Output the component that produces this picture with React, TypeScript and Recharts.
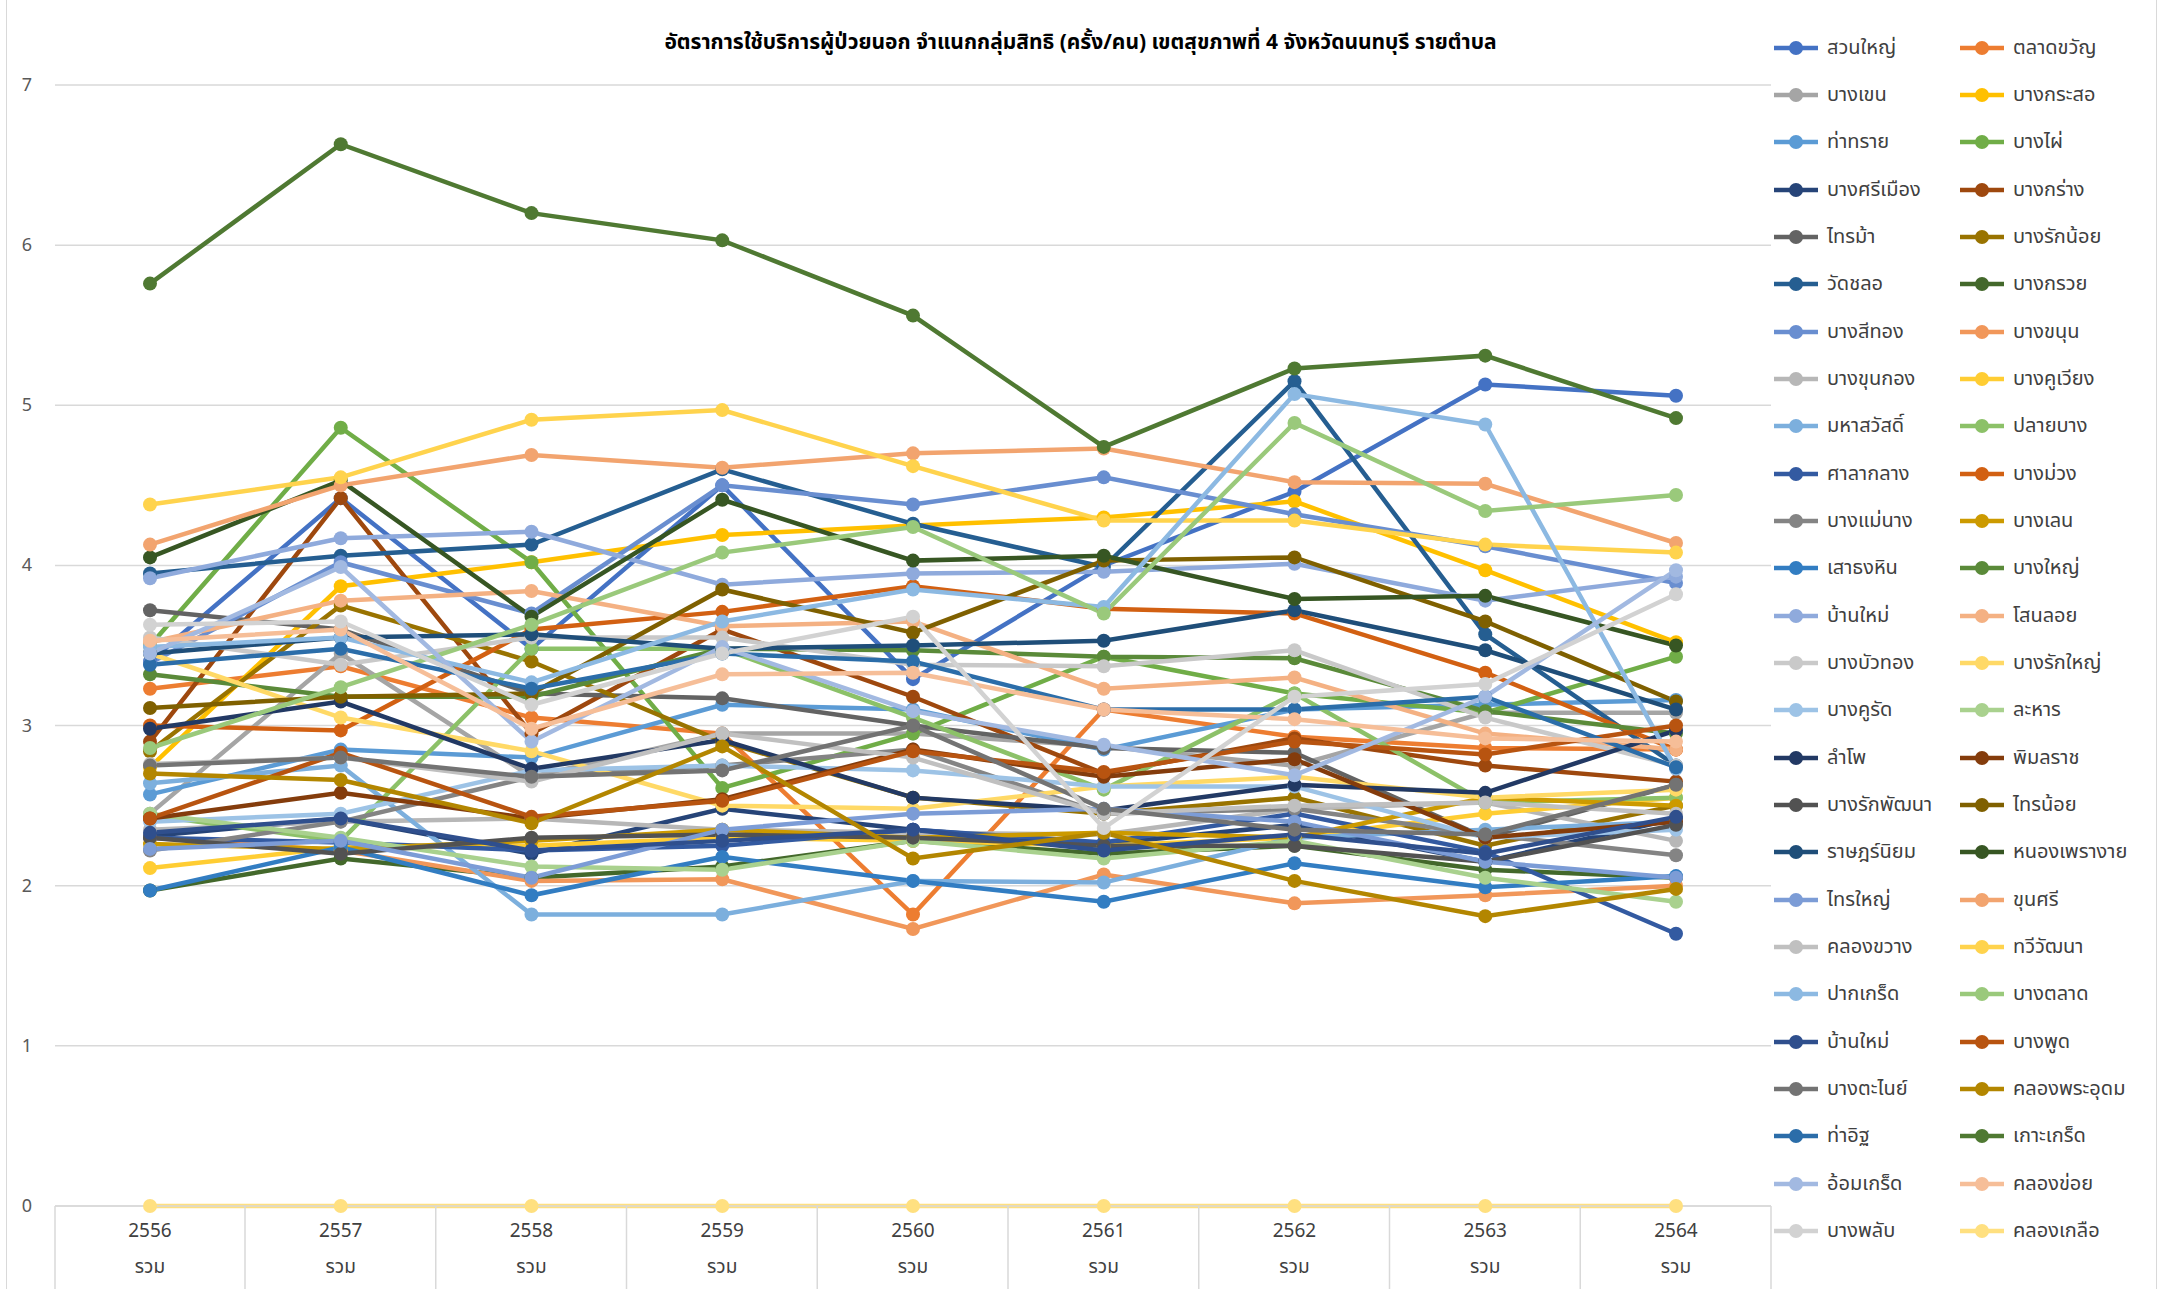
import { CartesianGrid, Legend, Line, LineChart, XAxis, YAxis } from "recharts";

const YEARS = ["2556", "2557", "2558", "2559", "2560", "2561", "2562", "2563", "2564"];
const Y_TICKS = [0, 1, 2, 3, 4, 5, 6, 7];

// values per tambon, 2556 -> 2564 (visits / person)
const suanYai = [3.4, 4.42, 3.48, 4.5, 3.29, 4.0, 4.46, 5.13, 5.06];
const talatKhwan = [3.23, 3.37, 3.05, 2.95, 1.82, 3.1, 2.93, 2.86, 2.85];
const bangKhen = [2.45, 3.45, 2.68, 2.95, 2.95, 2.87, 2.75, 3.08, 3.08];
const bangKrasor = [2.74, 3.87, 4.02, 4.19, 4.25, 4.3, 4.4, 3.97, 3.52];
const thaSai = [2.57, 2.85, 2.8, 3.13, 3.1, 2.85, 3.1, 3.13, 3.16];
const bangPhai = [3.5, 4.86, 4.02, 2.61, 2.95, 3.43, 3.2, 3.08, 3.43];
const bangSiMueang = [2.31, 2.42, 2.2, 2.48, 2.35, 2.26, 2.38, 2.15, 2.42];
const bangKrang = [2.9, 4.42, 2.95, 3.6, 3.18, 2.7, 2.92, 2.75, 2.65];
const saiMa = [3.72, 3.6, 3.2, 3.17, 3.0, 2.86, 2.83, 2.3, 2.63];
const bangRakNoi = [2.84, 3.75, 3.4, 2.9, 2.55, 2.45, 2.55, 2.25, 2.5];
const watChalo = [3.95, 4.06, 4.13, 4.6, 4.26, 3.99, 5.15, 3.57, 2.75];
const bangKruai = [1.97, 2.17, 2.05, 2.12, 2.28, 2.2, 2.25, 2.1, 2.05];
const bangSiThong = [3.39, 4.02, 3.7, 4.5, 4.38, 4.55, 4.32, 4.12, 3.89];
const bangKhanun = [2.3, 2.22, 2.03, 2.04, 1.73, 2.07, 1.89, 1.94, 2.0];
const bangKhunKong = [2.35, 2.4, 2.42, 2.35, 2.33, 2.32, 2.48, 2.52, 2.28];
const bangKhuWiang = [2.11, 2.24, 2.25, 2.3, 2.28, 2.25, 2.3, 2.45, 2.55];
const mahaSawat = [2.64, 2.75, 1.82, 1.82, 2.03, 2.02, 2.3, 2.35, 2.4];
const plaiBang = [2.44, 2.28, 3.48, 3.48, 3.05, 2.6, 3.2, 2.52, 2.55];
const salaKlang = [2.3, 2.27, 2.22, 2.25, 2.35, 2.27, 2.45, 2.21, 1.7];
const bangMuang = [3.0, 2.97, 3.6, 3.71, 3.87, 3.73, 3.7, 3.33, 2.85];
const bangMaeNang = [2.22, 2.4, 2.68, 2.75, 2.85, 2.45, 2.48, 2.32, 2.19];
const bangLen = [2.26, 2.23, 2.28, 2.35, 2.3, 2.33, 2.3, 2.55, 2.5];
const saoThongHin = [1.97, 2.24, 1.94, 2.18, 2.03, 1.9, 2.14, 1.99, 2.06];
const bangYai = [3.32, 3.18, 3.18, 3.48, 3.47, 3.43, 3.42, 3.09, 2.95];
const banMai = [3.92, 4.17, 4.21, 3.88, 3.95, 3.96, 4.01, 3.78, 3.93];
const sanonLoi = [3.52, 3.78, 3.84, 3.62, 3.65, 3.23, 3.3, 2.95, 2.85];
const bangBuaThong = [3.55, 3.38, 3.55, 3.55, 3.38, 3.37, 3.47, 3.05, 2.75];
const bangRakYai = [3.45, 3.05, 2.84, 2.5, 2.48, 2.62, 2.68, 2.55, 2.6];
const bangKhuRat = [2.4, 2.45, 2.72, 2.75, 2.72, 2.62, 2.62, 2.3, 2.35];
const lahan = [2.45, 2.3, 2.12, 2.1, 2.28, 2.17, 2.28, 2.05, 1.9];
const lamPho = [2.98, 3.15, 2.73, 2.91, 2.55, 2.47, 2.63, 2.58, 2.97];
const phimonRat = [2.42, 2.58, 2.42, 2.54, 2.85, 2.68, 2.79, 2.3, 2.4];
const bangRakPhatthana = [2.3, 2.2, 2.3, 2.32, 2.3, 2.25, 2.25, 2.15, 2.38];
const saiNoi = [3.11, 3.18, 3.2, 3.85, 3.58, 4.03, 4.05, 3.65, 3.15];
const ratNiyom = [3.45, 3.55, 3.57, 3.48, 3.5, 3.53, 3.72, 3.47, 3.1];
const nongPhraoNgai = [4.05, 4.53, 3.68, 4.41, 4.03, 4.06, 3.79, 3.81, 3.5];
const saiYai = [2.23, 2.28, 2.05, 2.35, 2.45, 2.48, 2.4, 2.15, 2.05];
const khunSi = [4.13, 4.5, 4.69, 4.61, 4.7, 4.73, 4.52, 4.51, 4.14];
const khlongKhwang = [2.76, 2.8, 2.65, 2.95, 2.8, 2.45, 2.5, 2.52, 2.45];
const thawiWatthana = [4.38, 4.55, 4.91, 4.97, 4.62, 4.28, 4.28, 4.13, 4.08];
const pakKret = [3.49, 3.55, 3.27, 3.65, 3.85, 3.74, 5.07, 4.88, 2.73];
const bangTalat = [2.86, 3.24, 3.63, 4.08, 4.24, 3.7, 4.89, 4.34, 4.44];
const banMai2 = [2.33, 2.42, 2.22, 2.28, 2.35, 2.22, 2.32, 2.2, 2.43];
const bangPhut = [2.42, 2.83, 2.43, 2.53, 2.84, 2.71, 2.9, 2.82, 3.0];
const bangTanai = [2.75, 2.8, 2.68, 2.72, 3.0, 2.48, 2.35, 2.32, 2.63];
const khlongPhraUdom = [2.7, 2.66, 2.39, 2.87, 2.17, 2.33, 2.03, 1.81, 1.98];
const thaIt = [3.38, 3.48, 3.23, 3.45, 3.4, 3.1, 3.1, 3.18, 2.74];
const koKret = [5.76, 6.63, 6.2, 6.03, 5.56, 4.74, 5.23, 5.31, 4.92];
const omKret = [3.45, 3.99, 2.9, 3.49, 3.09, 2.88, 2.69, 3.18, 3.97];
const khlongKhoi = [3.53, 3.6, 2.98, 3.32, 3.33, 3.1, 3.04, 2.92, 2.9];
const bangPhlap = [3.63, 3.65, 3.13, 3.45, 3.68, 2.36, 3.18, 3.26, 3.82];
const khlongKluea = [0, 0, 0, 0, 0, 0, 0, 0, 0];

const SERIES = [
  { name: "สวนใหญ่", color: "#4472C4", values: suanYai },
  { name: "ตลาดขวัญ", color: "#ED7D31", values: talatKhwan },
  { name: "บางเขน", color: "#A5A5A5", values: bangKhen },
  { name: "บางกระสอ", color: "#FFC000", values: bangKrasor },
  { name: "ท่าทราย", color: "#5B9BD5", values: thaSai },
  { name: "บางไผ่", color: "#70AD47", values: bangPhai },
  { name: "บางศรีเมือง", color: "#264478", values: bangSiMueang },
  { name: "บางกร่าง", color: "#9E480E", values: bangKrang },
  { name: "ไทรม้า", color: "#636363", values: saiMa },
  { name: "บางรักน้อย", color: "#997300", values: bangRakNoi },
  { name: "วัดชลอ", color: "#255E91", values: watChalo },
  { name: "บางกรวย", color: "#43682B", values: bangKruai },
  { name: "บางสีทอง", color: "#698ED0", values: bangSiThong },
  { name: "บางขนุน", color: "#F1975A", values: bangKhanun },
  { name: "บางขุนกอง", color: "#B7B7B7", values: bangKhunKong },
  { name: "บางคูเวียง", color: "#FFCD33", values: bangKhuWiang },
  { name: "มหาสวัสดิ์", color: "#7CAFDD", values: mahaSawat },
  { name: "ปลายบาง", color: "#8CC168", values: plaiBang },
  { name: "ศาลากลาง", color: "#335AA1", values: salaKlang },
  { name: "บางม่วง", color: "#D26012", values: bangMuang },
  { name: "บางแม่นาง", color: "#848484", values: bangMaeNang },
  { name: "บางเลน", color: "#CC9A00", values: bangLen },
  { name: "เสาธงหิน", color: "#327DC2", values: saoThongHin },
  { name: "บางใหญ่", color: "#5A8A39", values: bangYai },
  { name: "บ้านใหม่", color: "#8FAADC", values: banMai },
  { name: "โสนลอย", color: "#F4B183", values: sanonLoi },
  { name: "บางบัวทอง", color: "#C9C9C9", values: bangBuaThong },
  { name: "บางรักใหญ่", color: "#FFD966", values: bangRakYai },
  { name: "บางคูรัด", color: "#9DC3E6", values: bangKhuRat },
  { name: "ละหาร", color: "#A9D18E", values: lahan },
  { name: "ลำโพ", color: "#223964", values: lamPho },
  { name: "พิมลราช", color: "#843C0C", values: phimonRat },
  { name: "บางรักพัฒนา", color: "#525252", values: bangRakPhatthana },
  { name: "ไทรน้อย", color: "#7F6000", values: saiNoi },
  { name: "ราษฎร์นิยม", color: "#1F4E79", values: ratNiyom },
  { name: "หนองเพรางาย", color: "#375623", values: nongPhraoNgai },
  { name: "ไทรใหญ่", color: "#7C9CD6", values: saiYai },
  { name: "ขุนศรี", color: "#F2A46F", values: khunSi },
  { name: "คลองขวาง", color: "#C0C0C0", values: khlongKhwang },
  { name: "ทวีวัฒนา", color: "#FFD34D", values: thawiWatthana },
  { name: "ปากเกร็ด", color: "#8CB9E2", values: pakKret },
  { name: "บางตลาด", color: "#9AC97B", values: bangTalat },
  { name: "บ้านใหม่", color: "#2F4F8D", values: banMai2 },
  { name: "บางพูด", color: "#B85410", values: bangPhut },
  { name: "บางตะไนย์", color: "#737373", values: bangTanai },
  { name: "คลองพระอุดม", color: "#B38600", values: khlongPhraUdom },
  { name: "ท่าอิฐ", color: "#2B6DA9", values: thaIt },
  { name: "เกาะเกร็ด", color: "#4F7932", values: koKret },
  { name: "อ้อมเกร็ด", color: "#A2B9E1", values: omKret },
  { name: "คลองข่อย", color: "#F6BE98", values: khlongKhoi },
  { name: "บางพลับ", color: "#D2D2D2", values: bangPhlap },
  { name: "คลองเกลือ", color: "#FFE080", values: khlongKluea },
];

const TITLE = "อัตราการใช้บริการผู้ป่วยนอก จำแนกกลุ่มสิทธิ (ครั้ง/คน) เขตสุขภาพที่ 4 จังหวัดนนทบุรี รายตำบล";

const W = 2161;
const H = 1289;
const FONT = "Tahoma, 'Leelawadee UI', 'Noto Sans Thai', 'Noto Sans', 'DejaVu Sans', sans-serif";
const GRID = "#D9D9D9";
const TEXT = "#595959";
const HALF_BAND = 95;

const rows = YEARS.map((year, i) => {
  const row: Record<string, string | number> = { year };
  SERIES.forEach((s, k) => {
    row[`s${k}`] = s.values[i];
  });
  return row;
});

function YearTick({ x, y, payload, index }: any) {
  return (
    <g>
      {index === 0 && <line x1={x - HALF_BAND} x2={x - HALF_BAND} y1={y} y2={y + 83} stroke={GRID} strokeWidth={1.5} />}
      <line x1={x + HALF_BAND} x2={x + HALF_BAND} y1={y} y2={y + 83} stroke={GRID} strokeWidth={1.5} />
      <text x={x} y={y + 31} textAnchor="middle" fontSize={19} fill="#404040" fontFamily={FONT}>
        {payload.value}
      </text>
      <text x={x} y={y + 67} textAnchor="middle" fontSize={19} fill="#404040" fontFamily={FONT}>
        รวม
      </text>
    </g>
  );
}

function ValueTick({ y, payload }: any) {
  return (
    <text x={32} y={y + 6} textAnchor="end" fontSize={18} fill={TEXT} fontFamily={FONT}>
      {payload.value}
    </text>
  );
}

function LegendGrid() {
  return (
    <div
      style={{
        display: "grid",
        gridTemplateColumns: "186px 186px",
        gridAutoRows: "47.35px",
        fontFamily: FONT,
        fontSize: 20,
        color: "#404040",
      }}
    >
      {SERIES.map((s, k) => (
        <div key={k} style={{ display: "flex", alignItems: "center", height: 47 }}>
          <svg width={46} height={16} style={{ flex: "none" }}>
            <line x1={1} x2={45} y1={8} y2={8} stroke={s.color} strokeWidth={4.5} />
            <circle cx={23} cy={8} r={7} fill={s.color} />
          </svg>
          <span style={{ marginLeft: 8, whiteSpace: "nowrap" }}>{s.name}</span>
        </div>
      ))}
    </div>
  );
}

export default function App() {
  return (
    <div style={{ position: "absolute", left: 0, top: 0, width: W, height: H, background: "#fff" }}>
      <div style={{ position: "absolute", left: 6, top: 0, width: 1, height: H, background: GRID }} />
      <div style={{ position: "absolute", left: 2156, top: 0, width: 1, height: H, background: GRID }} />
      <div
        style={{
          position: "absolute",
          left: 0,
          top: 27,
          width: W,
          textAlign: "center",
          fontFamily: FONT,
          fontWeight: 700,
          fontSize: 21,
          color: "#000",
        }}
      >
        {TITLE}
      </div>
      <LineChart width={W} height={H} data={rows} margin={{ top: 85, right: 390, bottom: 0, left: 0 }}>
        <CartesianGrid vertical={false} stroke={GRID} strokeWidth={1.5} />
        <XAxis
          dataKey="year"
          height={83}
          padding={{ left: HALF_BAND, right: HALF_BAND }}
          tickLine={false}
          tickSize={0}
          tickMargin={0}
          axisLine={{ stroke: GRID, strokeWidth: 1.5 }}
          tick={<YearTick />}
          interval={0}
        />
        <YAxis
          domain={[0, 7]}
          ticks={Y_TICKS}
          width={55}
          axisLine={false}
          tickLine={false}
          tick={<ValueTick />}
          interval={0}
        />
        <Legend
          layout="vertical"
          align="center"
          verticalAlign="middle"
          wrapperStyle={{ position: "absolute", left: 1773, top: 24, width: 385 }}
          content={() => <LegendGrid />}
        />
        {SERIES.map((s, k) => (
          <Line
            key={k}
            type="linear"
            dataKey={`s${k}`}
            name={s.name}
            stroke={s.color}
            strokeWidth={4.5}
            dot={{ r: 7, fill: s.color, stroke: s.color, strokeWidth: 0 }}
            activeDot={false}
            isAnimationActive={false}
          />
        ))}
      </LineChart>
    </div>
  );
}
